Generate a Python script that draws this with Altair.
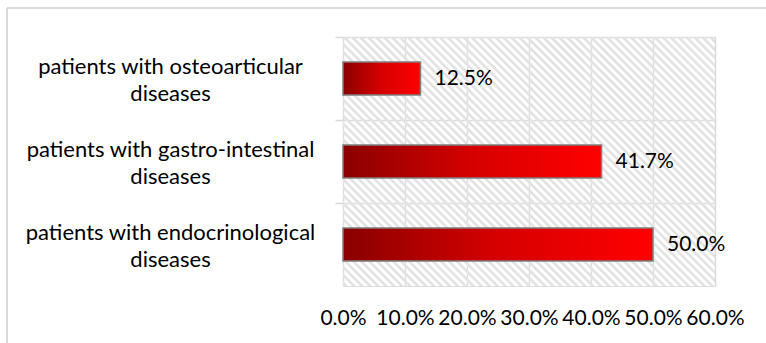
import altair as alt
import pandas as pd

# Share of patients by disease group
categories = [
    "patients with osteoarticular diseases",
    "patients with gastro-intestinal diseases",
    "patients with endocrinological diseases",
]
shares = [0.125, 0.417, 0.500]
x_ticks = [0.0, 0.1, 0.2, 0.3, 0.4, 0.5, 0.6]

df = pd.DataFrame({"group": categories, "share": shares})

W, H = 372, 249
FONT = "Lato"
GRID = "#d9d9d9"

# diagonal hatch for the plot background: stripes along x - y = const
span = W + H
s = span / (W * W + H * H)
n_stripes = 78
stops = []
for k in range(n_stripes):
    a = k / n_stripes
    step = 1 / n_stripes
    stops += [
        alt.GradientStop(offset=a, color="rgba(255,255,255,0)"),
        alt.GradientStop(offset=a + 0.25 * step, color="#e2e2e2"),
        alt.GradientStop(offset=a + 0.55 * step, color="#e2e2e2"),
        alt.GradientStop(offset=a + 0.8 * step, color="rgba(255,255,255,0)"),
    ]
stops.append(alt.GradientStop(offset=1, color="rgba(255,255,255,0)"))
hatch_fill = alt.LinearGradient(
    gradient="linear", stops=stops, x1=0, y1=1, x2=s * W, y2=1 - s * H
)

bar_fill = alt.LinearGradient(
    gradient="linear",
    stops=[
        alt.GradientStop(offset=0, color="#8a0000"),
        alt.GradientStop(offset=0.5, color="#d60000"),
        alt.GradientStop(offset=1, color="#ff0000"),
    ],
    x1=0, x2=1, y1=0, y2=0,
)

one = pd.DataFrame({"k": [0]})

y_enc = alt.Y(
    "group:N",
    sort=categories,
    scale=alt.Scale(paddingInner=0, paddingOuter=0),
    axis=alt.Axis(
        title=None,
        domain=False,
        grid=True,
        gridColor=GRID,
        gridWidth=1.5,
        bandPosition=0,
        ticks=True,
        tickColor=GRID,
        tickWidth=1.5,
        tickSize=8,
        labelExpr="[replace(datum.label, ' diseases', ''), 'diseases']",
        labelFont=FONT,
        labelFontSize=22,
        labelFontWeight="normal",
        labelLineHeight=27,
        labelColor="#000000",
        labelAlign="center",
        labelBaseline="middle",
        labelOffset=-12,
        labelPadding=165,
        labelLimit=400,
    ),
)

x_enc = alt.X(
    "share:Q",
    scale=alt.Scale(domain=[0, 0.6], nice=False),
    axis=alt.Axis(
        title=None,
        values=x_ticks,
        format=".1%",
        domain=False,
        ticks=False,
        grid=True,
        gridColor=GRID,
        gridWidth=1.5,
        labelFont=FONT,
        labelFontSize=21,
        labelFontWeight="normal",
        labelColor="#000000",
        labelPadding=21,
        labelFlush=False,
        labelOverlap=False,
    ),
)

hatch = alt.Chart(one).mark_rect(fill=hatch_fill, strokeWidth=0).encode(
    x=alt.value(0), x2=alt.value(W), y=alt.value(0), y2=alt.value(H)
)

bars = alt.Chart(df).mark_bar(
    fill=bar_fill, stroke="#7f7f7f", strokeWidth=1.5, size=33
).encode(x=x_enc, y=y_enc)

labels = alt.Chart(df).mark_text(
    align="left", baseline="middle", dx=14, font=FONT, fontSize=21, color="#000000"
).encode(
    x=alt.X("share:Q"),
    y=alt.Y("group:N", sort=categories),
    text=alt.Text("share:Q", format=".1%"),
)

# outer chart frame (left and top edges)
frame_left = alt.Chart(one).mark_rule(color=GRID, strokeWidth=2).encode(
    x=alt.value(-336), y=alt.value(-29), y2=alt.value(330)
)
frame_top = alt.Chart(one).mark_rule(color=GRID, strokeWidth=2).encode(
    x=alt.value(-336), x2=alt.value(440), y=alt.value(-29)
)

chart = (
    alt.layer(hatch, bars, labels, frame_left, frame_top)
    .properties(
        width=W,
        height=H,
        autosize=alt.AutoSizeParams(type="none"),
        padding={"left": 343, "top": 37, "right": 51, "bottom": 57},
    )
    .configure_view(stroke=GRID, strokeWidth=1.5)
    .configure(background="white")
)

chart.save("out.html", embed_options={"renderer": "svg", "actions": False})
